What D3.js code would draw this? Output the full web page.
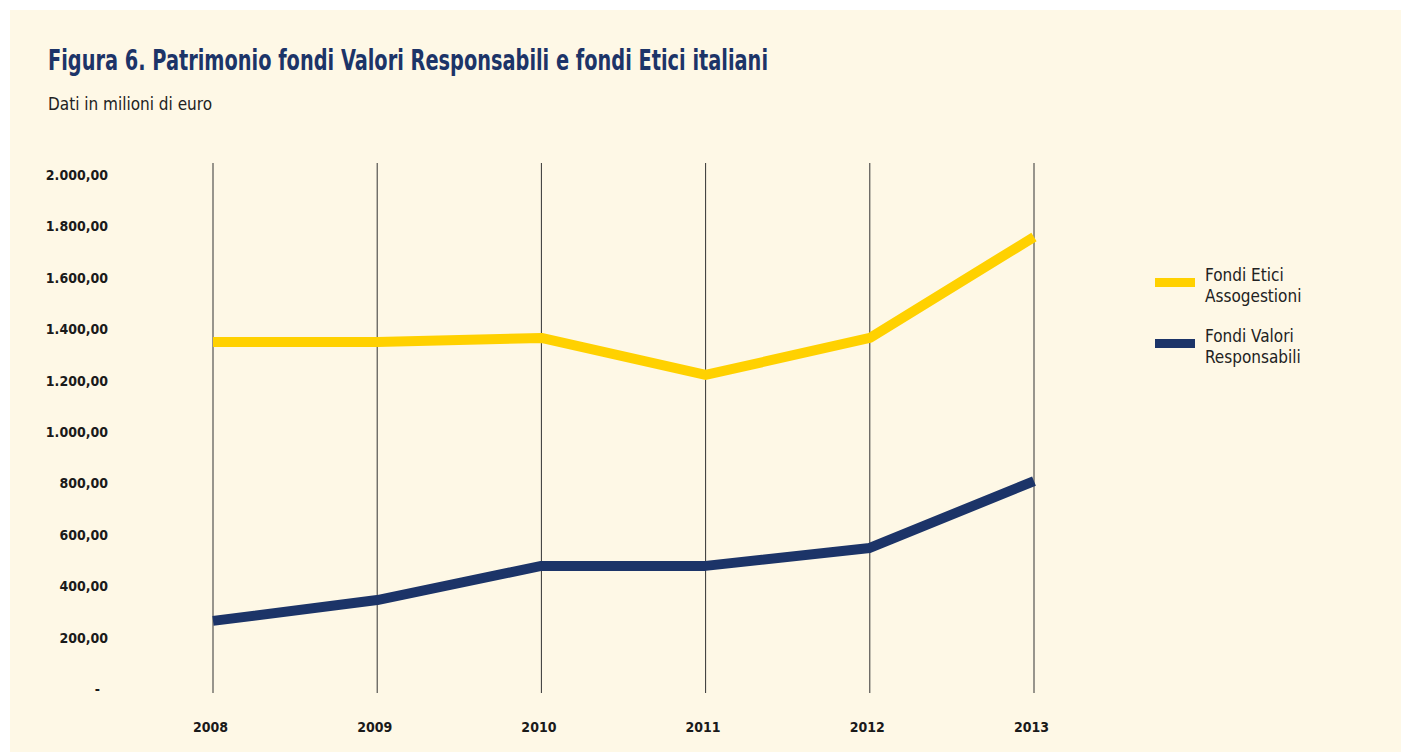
<!DOCTYPE html>
<html>
<head>
<meta charset="utf-8">
<script src="https://cdn.jsdelivr.net/npm/d3@7"></script>
<style>
  body { margin: 0; background: #ffffff; }
  svg text { font-family: "Liberation Sans Narrow", "DejaVu Sans Condensed", sans-serif; }
</style>
</head>
<body>
<div id="chart"></div>
<script>
var years = ['2008', '2009', '2010', '2011', '2012', '2013'];
var fondiEtici = [1350, 1350, 1366, 1222, 1366, 1759];
var fondiValori = [265, 346, 479, 479, 549, 809];
var yTicks = [0, 200, 400, 600, 800, 1000, 1200, 1400, 1600, 1800, 2000];
var seriesNames = ['Fondi Etici|Assogestioni', 'Fondi Valori|Responsabili'];
var seriesColors = ['#ffd100', '#1c3468'];

var svgWidth = 1401;
var svgHeight = 752;
var condensed = '"DejaVu Sans Condensed", "Liberation Sans Narrow", sans-serif';

var svg = d3.select('#chart')
  .append('svg')
  .attr('width', svgWidth)
  .attr('height', svgHeight);

// cream panel
svg.append('rect')
  .attr('x', 10).attr('y', 10)
  .attr('width', svgWidth - 10).attr('height', svgHeight - 10)
  .attr('fill', '#fef8e6');

svg.append('text')
  .attr('x', 48).attr('y', 70)
  .attr('fill', '#1c3468')
  .attr('font-size', 28)
  .attr('font-weight', 'bold')
  .attr('font-family', condensed)
  .attr('textLength', 720)
  .attr('lengthAdjust', 'spacingAndGlyphs')
  .text('Figura 6. Patrimonio fondi Valori Responsabili e fondi Etici italiani');

svg.append('text')
  .attr('x', 48).attr('y', 110)
  .attr('fill', '#222')
  .attr('font-size', 17)
  .text('Dati in milioni di euro');

var x = d3.scalePoint()
  .domain(years)
  .range([213, 1034]);

var y = d3.scaleLinear()
  .domain([0, 2000])
  .range([689, 175]);

// vertical grid lines at each year
svg.append('g')
  .selectAll('line')
  .data(years)
  .enter()
  .append('line')
  .attr('x1', d => x(d)).attr('x2', d => x(d))
  .attr('y1', 163).attr('y2', 693)
  .attr('stroke', '#333')
  .attr('stroke-width', 1);

var fmt = d3.formatLocale({ decimal: ',', thousands: '.', grouping: [3], currency: ['', '€'] }).format(',.2f');

var leftAxis = d3.axisLeft(y)
  .tickValues(yTicks)
  .tickSize(0)
  .tickPadding(0)
  .tickFormat(d => d === 0 ? '-' : fmt(d));

var yAxis = svg.append('g')
  .attr('transform', 'translate(108,0)')
  .call(leftAxis);
yAxis.select('.domain').remove();
yAxis.selectAll('text')
  .attr('font-size', 14)
  .attr('font-weight', 'bold')
  .attr('fill', '#1a1a1a')
  .attr('font-family', condensed);
yAxis.selectAll('.tick')
  .filter(d => d === 0)
  .select('text')
  .attr('x', -8);

var bottomAxis = d3.axisBottom(x)
  .tickSize(0)
  .tickPadding(0);

var xAxis = svg.append('g')
  .attr('transform', 'translate(0,722)')
  .call(bottomAxis);
xAxis.select('.domain').remove();
xAxis.selectAll('text')
  .attr('font-size', 14)
  .attr('font-weight', 'bold')
  .attr('fill', '#1a1a1a')
  .attr('dx', -3)
  .attr('font-family', condensed);

var line = d3.line()
  .x((d, i) => x(years[i]))
  .y(d => y(d));

[fondiEtici, fondiValori].forEach(function(s, i) {
  svg.append('path')
    .datum(s)
    .attr('d', line)
    .attr('fill', 'none')
    .attr('stroke', seriesColors[i])
    .attr('stroke-width', 10)
    .attr('stroke-linejoin', 'round');
});

// legend
var legend = svg.append('g')
  .selectAll('g')
  .data(seriesNames)
  .enter()
  .append('g')
  .attr('transform', (d, i) => `translate(1155, ${278 + i * 61})`);

legend.append('rect')
  .attr('width', 40).attr('height', 9)
  .attr('fill', (d, i) => seriesColors[i]);

legend.append('text')
  .attr('x', 50).attr('y', 3)
  .attr('font-size', 17)
  .attr('fill', '#222')
  .selectAll('tspan')
  .data(d => d.split('|'))
  .enter()
  .append('tspan')
  .attr('x', 50)
  .attr('dy', (d, i) => i === 0 ? 0 : 21)
  .text(d => d);
</script>
</body>
</html>
